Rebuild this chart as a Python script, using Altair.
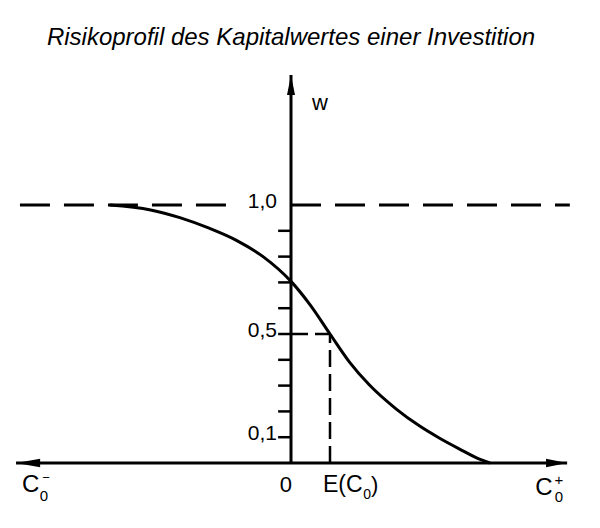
import altair as alt
import pandas as pd

# ---------------- data (C0 in units of E(C0), w = probability) ----------------
curve_c = [-4.65, -3.6, -2.85, -2.1, -1.4, -0.7, 0.0, 0.5, 1.0, 1.5, 2.0, 2.7, 3.3, 3.8, 4.3, 4.85, 5.1]
curve_w = [1.0, 0.981, 0.951, 0.910, 0.863, 0.798, 0.704, 0.611, 0.5, 0.391, 0.304, 0.209, 0.143, 0.097, 0.056, 0.014, 0.0]

tick_values = [0.1, 0.2, 0.3, 0.4, 0.5, 0.6, 0.7, 0.8, 0.9]
tick_label_values = [1.0, 0.5, 0.1]
tick_label_texts = ["1,0", "0,5", "0,1"]

expected_c = 1.0      # E(C0)
median_w = 0.5
title_text = "Risikoprofil des Kapitalwertes einer Investition"

# extents of the drawn axes (data units)
x_axis_from, x_axis_to = -7.05, 7.08
w_axis_top = 1.504
tick_len = 0.33

# ---------------- scales ----------------
xs = alt.Scale(domain=[-7.4615, 7.9231], nice=False, zero=False)
ys = alt.Scale(domain=[-0.2519, 1.7946], nice=False, zero=False)


def X(f):
    return alt.X(f, type="quantitative", scale=xs, axis=None)


def X2(f):
    return alt.X2(f)


def Y(f):
    return alt.Y(f, type="quantitative", scale=ys, axis=None)


def Y2(f):
    return alt.Y2(f)


BLACK = "#000000"

# curve
curve_df = pd.DataFrame({"c": curve_c, "w": curve_w})
curve = alt.Chart(curve_df).mark_line(
    interpolate="monotone", color=BLACK, strokeWidth=3
).encode(x=X("c"), y=Y("w"))

# axes lines
axes_df = pd.DataFrame({
    "x": [x_axis_from, 0.0],
    "x2": [x_axis_to, 0.0],
    "y": [0.0, 0.0],
    "y2": [0.0, w_axis_top],
})
axes = alt.Chart(axes_df).mark_rule(color=BLACK, strokeWidth=3).encode(
    x=X("x"), x2=X2("x2"), y=Y("y"), y2=Y2("y2")
)

# tick marks on the w axis
ticks_df = pd.DataFrame({"x": [-tick_len] * len(tick_values), "x2": [0.0] * len(tick_values), "y": tick_values})
ticks = alt.Chart(ticks_df).mark_rule(color=BLACK, strokeWidth=2.5).encode(
    x=X("x"), x2=X2("x2"), y=Y("y")
)

# dashed line at w = 1.0 (interrupted by its label)
one_df = pd.DataFrame({"x": [-6.95, 0.0], "x2": [-1.51, 7.15], "y": [1.0, 1.0]})
one_line = alt.Chart(one_df).mark_rule(color=BLACK, strokeWidth=3, strokeDash=[30, 14]).encode(
    x=X("x"), x2=X2("x2"), y=Y("y")
)

# dashed guide to E(C0)
guide_df = pd.DataFrame({
    "x": [0.0, expected_c],
    "x2": [expected_c, expected_c],
    "y": [median_w, 0.0],
    "y2": [median_w, median_w],
})
guide = alt.Chart(guide_df).mark_rule(color=BLACK, strokeWidth=2.5, strokeDash=[17, 7]).encode(
    x=X("x"), x2=X2("x2"), y=Y("y"), y2=Y2("y2")
)

# arrow heads
up_df = pd.DataFrame({"x": [0.0], "y": [1.465]})
up_head = alt.Chart(up_df).mark_point(
    shape="M0,-1L0.4,1L-0.4,1Z", filled=True, size=400, color=BLACK, opacity=1, strokeWidth=0
).encode(x=X("x"), y=Y("y"))
left_df = pd.DataFrame({"x": [-6.74], "y": [0.0]})
left_head = alt.Chart(left_df).mark_point(
    shape="M-1,0L1,-0.36L1,0.36Z", filled=True, size=576, color=BLACK, opacity=1, strokeWidth=0
).encode(x=X("x"), y=Y("y"))
right_df = pd.DataFrame({"x": [6.81], "y": [0.0]})
right_head = alt.Chart(right_df).mark_point(
    shape="M1,0L-1,-0.4L-1,0.4Z", filled=True, size=441, color=BLACK, opacity=1, strokeWidth=0
).encode(x=X("x"), y=Y("y"))

FONT = "Liberation Sans"

# tick labels (right aligned)
tl_df = pd.DataFrame({"x": [-0.36] * 3, "y": tick_label_values, "t": tick_label_texts})
tick_text = alt.Chart(tl_df).mark_text(
    align="right", baseline="middle", font=FONT, fontSize=21, color=BLACK, dy=-3
).encode(x=X("x"), y=Y("y"), text="t:N")

# left-aligned labels
left_labels = pd.DataFrame({
    "x": [0.54, -6.90, -6.44, 0.82, 1.85, 2.05, 6.26],
    "y": [1.368, -0.112, -0.147, -0.112, -0.14, -0.112, -0.124],
    "t": ["w", "C", "0", "E(C", "0", ")", "C"],
    "fs": [22, 24, 15, 23, 14, 22, 24],
})
left_text = alt.Chart(left_labels).mark_text(
    align="left", baseline="alphabetic", font=FONT, color=BLACK
).encode(x=X("x"), y=Y("y"), text="t:N", size=alt.Size("fs:Q", scale=None, legend=None))

# centred labels
center_labels = pd.DataFrame({
    "x": [-0.13, -6.28, 6.87, 6.87],
    "y": [-0.112, -0.074, -0.085, -0.151],
    "t": ["0", "\u2212", "+", "0"],
    "fs": [22, 13, 15, 15],
})
center_text = alt.Chart(center_labels).mark_text(
    align="center", baseline="alphabetic", font=FONT, color=BLACK
).encode(x=X("x"), y=Y("y"), text="t:N", size=alt.Size("fs:Q", scale=None, legend=None))

# title
title_df = pd.DataFrame({"x": [0.0], "y": [1.647], "t": [title_text]})
title = alt.Chart(title_df).mark_text(
    align="center", baseline="middle", font=FONT, fontSize=24, fontStyle="italic", color=BLACK
).encode(x=X("x"), y=Y("y"), text="t:N")

chart = alt.layer(
    one_line, guide, ticks, axes, curve, up_head, left_head, right_head,
    tick_text, left_text, center_text, title
).properties(
    width=600, height=528, padding=0, autosize=alt.AutoSizeParams(type="none"),
    background="white"
).configure_view(stroke=None)

chart.save("out.html", embed_options={"renderer": "svg", "actions": False})
